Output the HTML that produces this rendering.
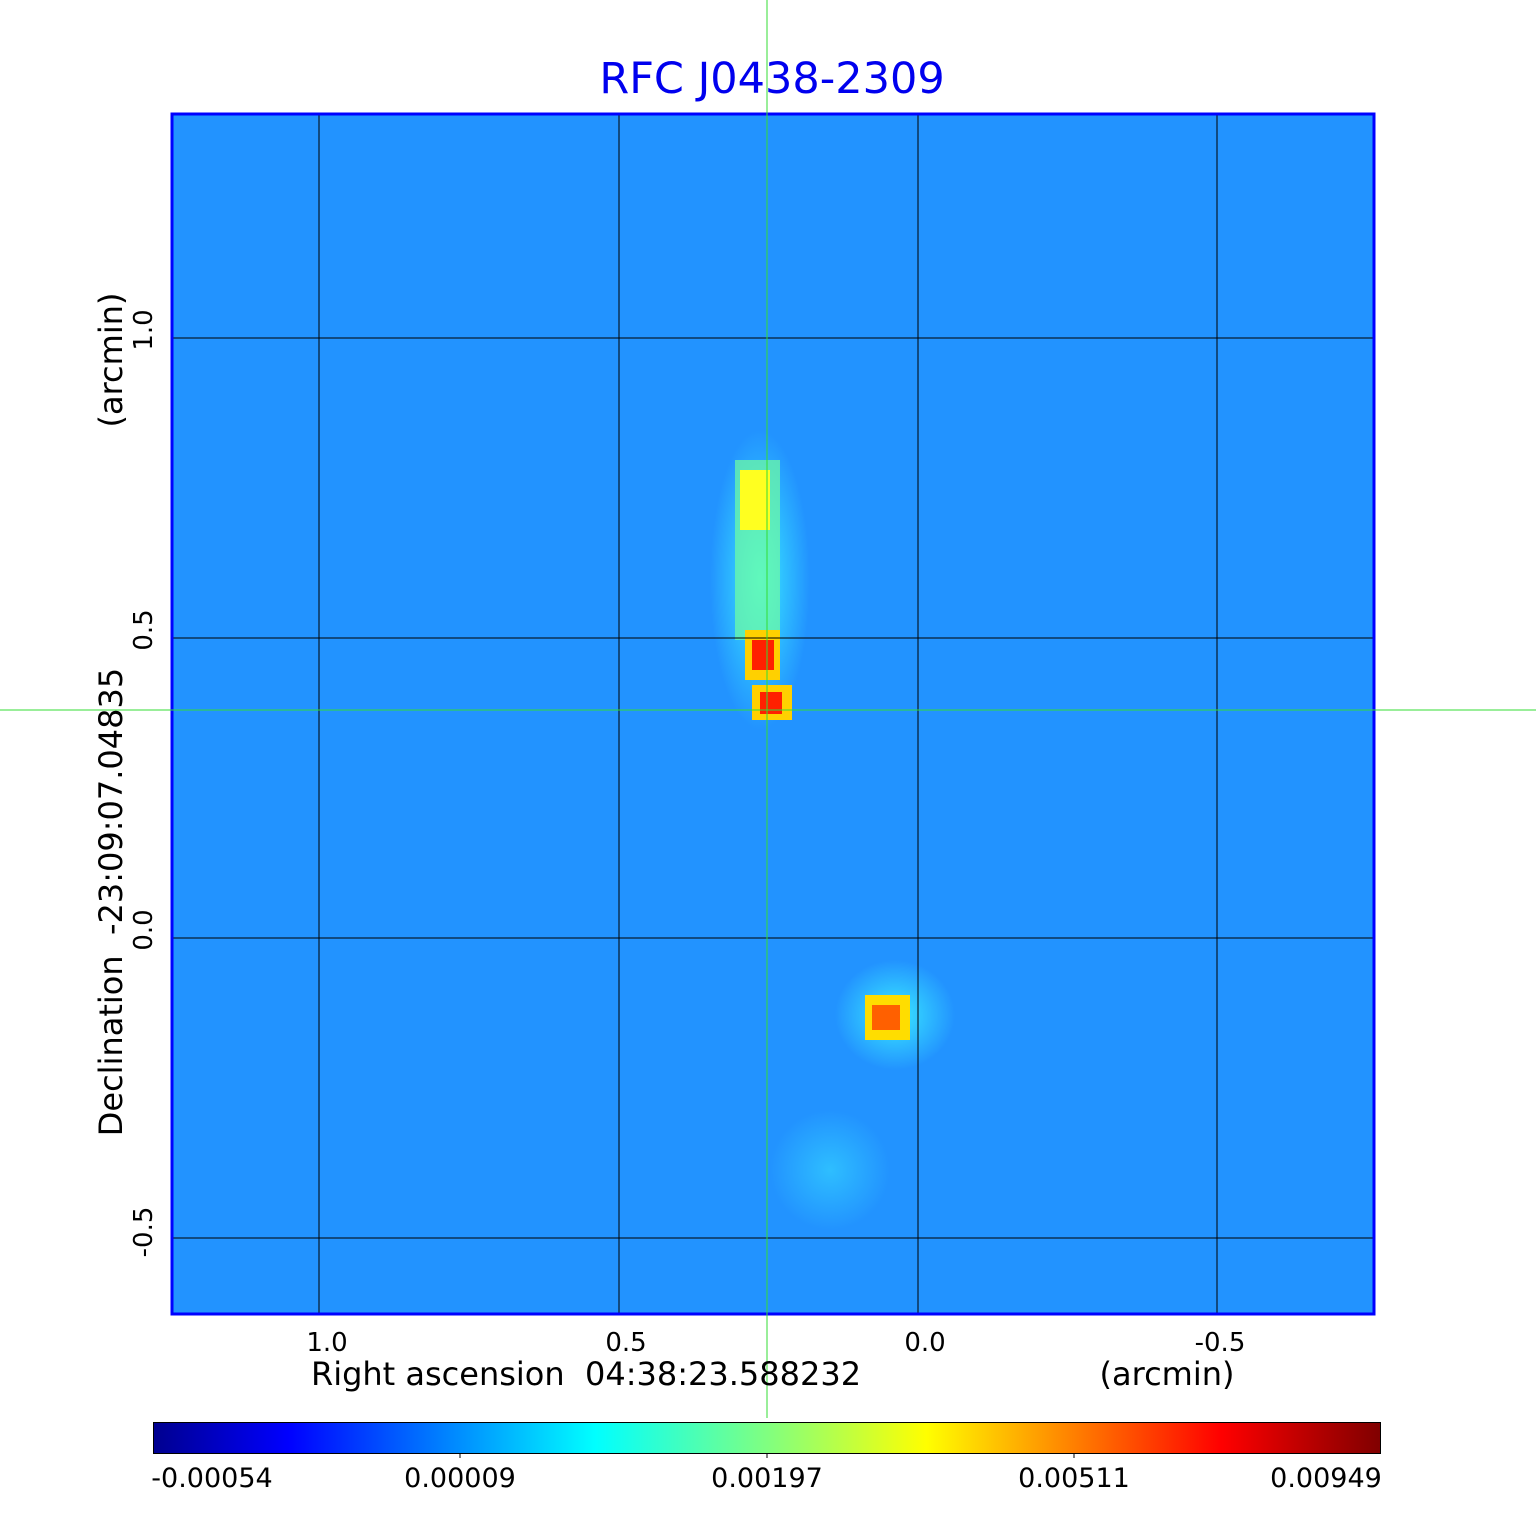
<!DOCTYPE html>
<html><head><style>body{margin:0;background:#fff}</style></head><body>
<svg width="1536" height="1511" xmlns="http://www.w3.org/2000/svg" font-family="DejaVu Sans, Liberation Sans, sans-serif">
<defs>
<linearGradient id="jet" x1="0" x2="1">
<stop offset="0" stop-color="#00008f"/><stop offset="0.11" stop-color="#0000ff"/>
<stop offset="0.36" stop-color="#00ffff"/><stop offset="0.5" stop-color="#80ff80"/>
<stop offset="0.63" stop-color="#ffff00"/><stop offset="0.87" stop-color="#ff0000"/>
<stop offset="1" stop-color="#800000"/></linearGradient>
<radialGradient id="g1"><stop offset="0" stop-color="#40ffff" stop-opacity="0.8"/><stop offset="1" stop-color="#40ffff" stop-opacity="0"/></radialGradient>
</defs>
<rect x="171" y="113" width="1204" height="1202" fill="#1e8cff"/>
<rect x="171" y="113" width="1204" height="1202" fill="#2aa0ff" opacity="0.35"/>
<ellipse cx="760" cy="580" rx="50" ry="150" fill="url(#g1)"/>
<ellipse cx="895" cy="1015" rx="60" ry="55" fill="url(#g1)"/>
<ellipse cx="830" cy="1170" rx="60" ry="60" fill="url(#g1)" opacity="0.5"/>
<rect x="735" y="460" width="45" height="180" fill="#70ffa0" opacity="0.7"/>
<rect x="740" y="470" width="30" height="60" fill="#ffff20"/>
<rect x="745" y="630" width="35" height="50" fill="#ffd000"/>
<rect x="752" y="640" width="22" height="30" fill="#ff2000"/>
<rect x="752" y="685" width="40" height="35" fill="#ffd000"/>
<rect x="760" y="692" width="22" height="22" fill="#ff2000"/>
<rect x="865" y="995" width="45" height="45" fill="#ffdd00"/>
<rect x="872" y="1005" width="28" height="25" fill="#ff6000"/>
<g stroke="#000" stroke-width="1">
<line x1="319" y1="113" x2="319" y2="1315"/><line x1="619" y1="113" x2="619" y2="1315"/>
<line x1="918" y1="113" x2="918" y2="1315"/><line x1="1217" y1="113" x2="1217" y2="1315"/>
<line x1="171" y1="338" x2="1375" y2="338"/><line x1="171" y1="638" x2="1375" y2="638"/>
<line x1="171" y1="938" x2="1375" y2="938"/><line x1="171" y1="1238" x2="1375" y2="1238"/>
</g>
<rect x="172" y="114" width="1202" height="1200" fill="none" stroke="#0000ff" stroke-width="3"/>
<line x1="767" y1="0" x2="767" y2="1418" stroke="#33dd33" stroke-width="1"/>
<line x1="0" y1="710" x2="1536" y2="710" stroke="#33dd33" stroke-width="1"/>
<text x="772" y="93" font-size="43" fill="#0000ee" text-anchor="middle">RFC J0438-2309</text>
<g font-size="26" fill="#000" text-anchor="middle">
<text x="327" y="1351">1.0</text><text x="626" y="1351">0.5</text><text x="925" y="1351">0.0</text><text x="1220" y="1351">-0.5</text>
<text x="586" y="1385" font-size="32" xml:space="preserve">Right ascension  04:38:23.588232</text>
<text x="1167" y="1385" font-size="32">(arcmin)</text>
<text transform="translate(152,330) rotate(-90)">1.0</text>
<text transform="translate(152,630) rotate(-90)">0.5</text>
<text transform="translate(152,930) rotate(-90)">0.0</text>
<text transform="translate(152,1232) rotate(-90)">-0.5</text>
<text transform="translate(122,902) rotate(-90)" font-size="32" xml:space="preserve">Declination  -23:09:07.04835</text>
<text transform="translate(122,360) rotate(-90)" font-size="32">(arcmin)</text>
</g>
<rect x="153.5" y="1422.5" width="1227" height="31" fill="url(#jet)" stroke="#000"/>
<g stroke="#000"><line x1="460" y1="1453" x2="460" y2="1458"/><line x1="767" y1="1453" x2="767" y2="1458"/><line x1="1074" y1="1453" x2="1074" y2="1458"/></g>
<g font-size="27" fill="#000" text-anchor="middle">
<text x="212" y="1487">-0.00054</text><text x="460" y="1487">0.00009</text><text x="767" y="1487">0.00197</text><text x="1074" y="1487">0.00511</text><text x="1326" y="1487">0.00949</text>
</g>
</svg>
</body></html>
